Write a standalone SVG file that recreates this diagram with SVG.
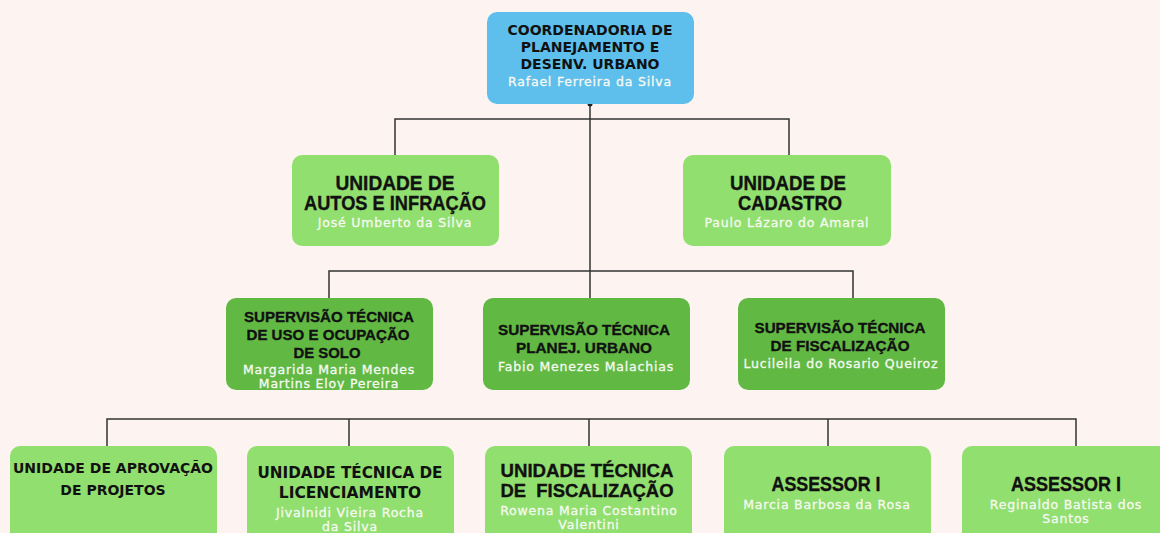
<svg xmlns="http://www.w3.org/2000/svg" width="1160" height="533" viewBox="0 0 1160 533">
<style>
.bg{fill:#FDF4F2}
.blue{fill:#5FBFEC}
.lg{fill:#91DF6E}
.dg{fill:#61B944}
.tw{font-family:"DejaVu Sans","Liberation Sans",sans-serif;font-weight:bold;fill:#111;text-anchor:middle}
.tc{font-family:"Liberation Sans",Arial,sans-serif;font-weight:bold;fill:#111;stroke:#111;stroke-width:0.35;text-anchor:middle}
.nm{font-family:"DejaVu Sans","Open Sans",sans-serif;fill:#F6F9F2;stroke:#F6F9F2;stroke-width:0.3;text-anchor:middle;letter-spacing:0.8px}
.ln{fill:none;stroke:#333;stroke-width:1.5}
.dot{fill:#222}
</style>
<rect class="bg" x="0" y="0" width="1160" height="533"/>
<g id="connectors">
<path class="ln" d="M590 104V301"/>
<path class="ln" d="M395 158V119H789V158"/>
<path class="ln" d="M329 301V271H853V301"/>
<path class="ln" d="M107 452V419H1076V452"/>
<path class="ln" d="M349 419V452M589 419V452M828 419V452"/>
<circle class="dot" cx="590" cy="104" r="2.5"/>
<circle class="dot" cx="395" cy="158" r="2.5"/>
<circle class="dot" cx="789" cy="158" r="2.5"/>
<circle class="dot" cx="329" cy="301" r="2.5"/>
<circle class="dot" cx="590" cy="301" r="2.5"/>
<circle class="dot" cx="853" cy="301" r="2.5"/>
<circle class="dot" cx="107" cy="452" r="2.5"/>
<circle class="dot" cx="349" cy="452" r="2.5"/>
<circle class="dot" cx="589" cy="452" r="2.5"/>
<circle class="dot" cx="828" cy="452" r="2.5"/>
<circle class="dot" cx="1076" cy="452" r="2.5"/>
</g>
<g id="coord">
<rect class="blue" x="487" y="12" width="207" height="92" rx="10"/>
<text class="tw" x="590" y="35" font-size="14" textLength="165" lengthAdjust="spacingAndGlyphs">COORDENADORIA DE</text>
<text class="tw" x="590" y="52" font-size="14">PLANEJAMENTO E</text>
<text class="tw" x="590" y="69" font-size="14">DESENV. URBANO</text>
<text class="nm" x="590" y="86" font-size="12.5">Rafael Ferreira da Silva</text>
</g>
<g id="autos">
<rect class="lg" x="292" y="155" width="207" height="91" rx="10"/>
<text class="tc" x="395" y="190" font-size="19.5" textLength="119" lengthAdjust="spacingAndGlyphs">UNIDADE DE</text>
<text class="tc" x="395" y="210" font-size="19.5" textLength="182" lengthAdjust="spacingAndGlyphs">AUTOS E INFRAÇÃO</text>
<text class="nm" x="395" y="227" font-size="12.5">José Umberto da Silva</text>
</g>
<g id="cadastro">
<rect class="lg" x="683" y="155" width="208" height="91" rx="10"/>
<text class="tc" x="788" y="190" font-size="19.5" textLength="116" lengthAdjust="spacingAndGlyphs">UNIDADE DE</text>
<text class="tc" x="790" y="210" font-size="19.5" textLength="104" lengthAdjust="spacingAndGlyphs">CADASTRO</text>
<text class="nm" x="787" y="227" font-size="12.5">Paulo Lázaro do Amaral</text>
</g>
<g id="sup-uso">
<rect class="dg" x="226" y="298" width="207" height="92" rx="10"/>
<text class="tc" x="329" y="322" font-size="15.5" textLength="170" lengthAdjust="spacingAndGlyphs">SUPERVISÃO TÉCNICA</text>
<text class="tc" x="328" y="340" font-size="15.5" textLength="163" lengthAdjust="spacingAndGlyphs">DE USO E OCUPAÇÃO</text>
<text class="tc" x="327" y="358" font-size="15.5" textLength="67" lengthAdjust="spacingAndGlyphs">DE SOLO</text>
<text class="nm" x="329" y="374" font-size="12.5">Margarida Maria Mendes</text>
<text class="nm" x="329" y="388" font-size="12.5">Martins Eloy Pereira</text>
</g>
<g id="sup-plan">
<rect class="dg" x="483" y="298" width="207" height="92" rx="10"/>
<text class="tc" x="584" y="335" font-size="15.5" textLength="172" lengthAdjust="spacingAndGlyphs">SUPERVISÃO TÉCNICA</text>
<text class="tc" x="584" y="353" font-size="15.5" textLength="136" lengthAdjust="spacingAndGlyphs">PLANEJ. URBANO</text>
<text class="nm" x="586" y="371" font-size="12.5">Fabio Menezes Malachias</text>
</g>
<g id="sup-fisc">
<rect class="dg" x="738" y="298" width="207" height="92" rx="10"/>
<text class="tc" x="840" y="333" font-size="15.5" textLength="171" lengthAdjust="spacingAndGlyphs">SUPERVISÃO TÉCNICA</text>
<text class="tc" x="840" y="351" font-size="15.5" textLength="139" lengthAdjust="spacingAndGlyphs">DE FISCALIZAÇÃO</text>
<text class="nm" x="841" y="368" font-size="12.5">Lucileila do Rosario Queiroz</text>
</g>
<g id="aprov">
<rect class="lg" x="10" y="446" width="207" height="100" rx="10"/>
<text class="tw" x="113" y="473" font-size="14" textLength="200" lengthAdjust="spacingAndGlyphs">UNIDADE DE APROVAÇÃO</text>
<text class="tw" x="113" y="495" font-size="14">DE PROJETOS</text>
</g>
<g id="licenc">
<rect class="lg" x="247" y="446" width="207" height="100" rx="10"/>
<text class="tw" x="350" y="478" font-size="15.5" textLength="185" lengthAdjust="spacingAndGlyphs">UNIDADE TÉCNICA DE</text>
<text class="tw" x="350" y="498" font-size="15.5">LICENCIAMENTO</text>
<text class="nm" x="350" y="517" font-size="12.5">Jivalnidi Vieira Rocha</text>
<text class="nm" x="350" y="531" font-size="12.5">da Silva</text>
</g>
<g id="tec-fisc">
<rect class="lg" x="485" y="446" width="207" height="100" rx="10"/>
<text class="tc" x="587" y="477" font-size="18.5" textLength="173" lengthAdjust="spacingAndGlyphs">UNIDADE TÉCNICA</text>
<text class="tc" x="587" y="497" font-size="18.5" xml:space="preserve" textLength="173" lengthAdjust="spacingAndGlyphs">DE  FISCALIZAÇÃO</text>
<text class="nm" x="589" y="515" font-size="12.5">Rowena Maria Costantino</text>
<text class="nm" x="589" y="529" font-size="12.5">Valentini</text>
</g>
<g id="assessor1">
<rect class="lg" x="724" y="446" width="207" height="100" rx="10"/>
<text class="tc" x="826" y="491" font-size="19.5" textLength="109" lengthAdjust="spacingAndGlyphs">ASSESSOR I</text>
<text class="nm" x="827" y="509" font-size="12.5">Marcia Barbosa da Rosa</text>
</g>
<g id="assessor2">
<rect class="lg" x="962" y="446" width="207" height="100" rx="10"/>
<text class="tc" x="1066" y="491" font-size="19.5" textLength="110" lengthAdjust="spacingAndGlyphs">ASSESSOR I</text>
<text class="nm" x="1066" y="509" font-size="12.5">Reginaldo Batista dos</text>
<text class="nm" x="1066" y="523" font-size="12.5">Santos</text>
</g>
</svg>
